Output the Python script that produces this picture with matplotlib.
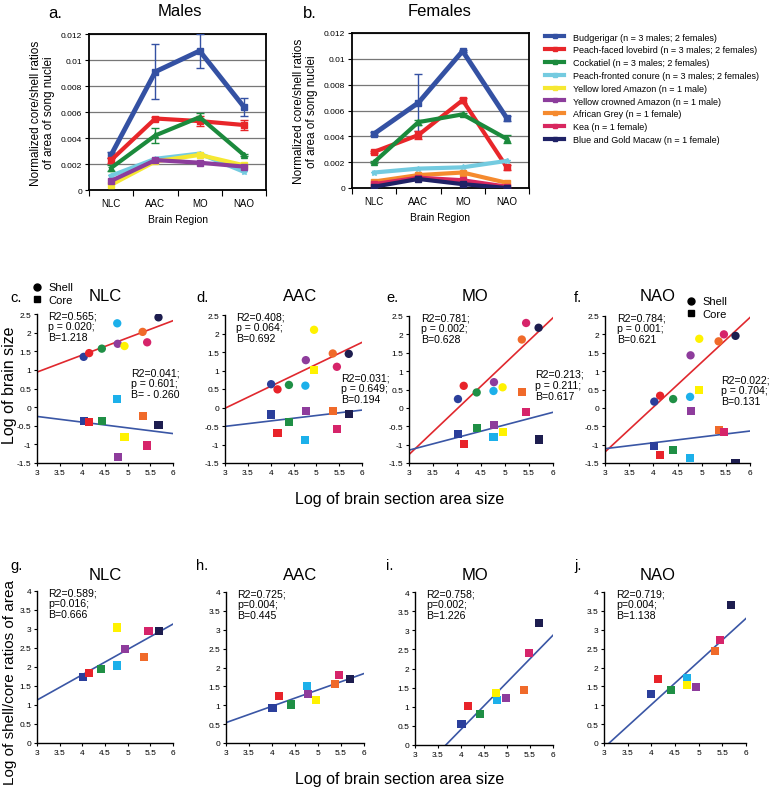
import numpy as np
import matplotlib
matplotlib.use("Agg")
import matplotlib.pyplot as plt
from matplotlib.lines import Line2D
from matplotlib.ticker import FuncFormatter, FixedLocator

plt.rcParams['font.family'] = ['Liberation Sans', 'DejaVu Sans']

W, H = 777, 804

# ---- top row: normalized core/shell ratios by brain region ----
regions = ["NLC", "AAC", "MO", "NAO"]
species = ["Budgerigar (n = 3 males; 2 females)",
           "Peach-faced lovebird (n = 3 males; 2 females)",
           "Cockatiel (n = 3 males; 2 females)",
           "Peach-fronted conure (n = 3 males; 2 females)",
           "Yellow lored Amazon (n = 1 male)",
           "Yellow crowned Amazon (n = 1 male)",
           "African Grey (n = 1 female)",
           "Kea (n = 1 female)",
           "Blue and Gold Macaw (n = 1 female)"]
line_colors = ["#3451a3", "#e8262a", "#1b8a3c", "#74cbe0", "#f6e832",
               "#8c3d9c", "#f58a2e", "#d8275f", "#1f2266"]

male_budgie = [0.0027, 0.0091, 0.0107, 0.0064]
male_budgie_err = [0.0002, 0.0021, 0.0013, 0.0007]
male_lovebird = [0.0023, 0.0055, 0.0053, 0.0050]
male_lovebird_err = [0.0002, 0.0001, 0.0004, 0.0004]
male_cockatiel = [0.0017, 0.0042, 0.0056, 0.0027]
male_cockatiel_err = [0.0002, 0.0006, 0.0003, 0.0001]
male_conure = [0.0011, 0.0024, 0.0028, 0.0014]
male_yellow_lored = [0.0004, 0.0022, 0.0027, 0.0019]
male_yellow_crowned = [0.0007, 0.0023, 0.0021, 0.0018]

female_budgie = [0.0042, 0.0066, 0.0106, 0.0054]
female_budgie_err = [0.0001, 0.0022, 0.0001, 0.0002]
female_lovebird = [0.0028, 0.0041, 0.0068, 0.0016]
female_lovebird_err = [0.0001, 0.0003, 0.0002, 0.0002]
female_cockatiel = [0.0020, 0.0051, 0.0057, 0.0038]
female_cockatiel_err = [0.0001, 0.0002, 0.0001, 0.0003]
female_conure = [0.0012, 0.0015, 0.0016, 0.0021]
female_african_grey = [0.0005, 0.0010, 0.0012, 0.0004]
female_kea = [0.0003, 0.0008, 0.0006, 0.0001]
female_macaw = [0.0001, 0.0007, 0.0003, 0.0000]

# ---- scatter panels: x = log of brain section area size ----
dot_colors = ["#2b3f9b", "#e8232a", "#1f8f45", "#1cb0ea", "#8e3c9c",
              "#fff200", "#f06a2a", "#d6246a", "#1d1d4f"]
# order: budgie, lovebird, cockatiel, conure, yellow crowned, yellow lored, grey, kea, macaw
x_c = [4.03, 4.15, 4.43, 4.77, 4.78, 4.93, 5.33, 5.43, 5.68]
shell_c = [1.35, 1.45, 1.57, 2.25, 1.70, 1.64, 2.02, 1.74, 2.41]
core_c = [-0.38, -0.40, -0.38, 0.22, -1.34, -0.81, -0.25, -1.03, -0.48]
x_d = [4.01, 4.15, 4.40, 4.76, 4.77, 4.95, 5.36, 5.45, 5.71]
shell_d = [0.63, 0.49, 0.61, 0.59, 1.28, 2.10, 1.46, 1.10, 1.45]
core_d = [-0.19, -0.68, -0.39, -0.89, -0.09, 1.01, -0.09, -0.59, -0.18]
x_e = [4.02, 4.14, 4.41, 4.76, 4.77, 4.95, 5.35, 5.44, 5.70]
shell_e = [0.24, 0.60, 0.42, 0.46, 0.70, 0.56, 1.86, 2.31, 2.18]
core_e = [-0.70, -0.99, -0.55, -0.80, -0.47, -0.65, 0.42, -0.10, -0.86]
x_f = [4.02, 4.14, 4.41, 4.76, 4.77, 4.95, 5.35, 5.46, 5.70]
shell_f = [0.17, 0.33, 0.24, 0.30, 1.43, 1.88, 1.81, 2.00, 1.96]
core_f = [-1.04, -1.28, -1.14, -1.37, -0.08, 0.49, -0.60, -0.65, -1.49]

x_g = [4.01, 4.15, 4.41, 4.76, 4.95, 4.77, 5.36, 5.46, 5.70]
ratio_g = [1.74, 1.85, 1.95, 2.04, 2.47, 3.04, 2.26, 2.95, 2.95]
x_h = [4.01, 4.15, 4.42, 4.76, 4.78, 4.95, 5.36, 5.46, 5.70]
ratio_h = [0.92, 1.24, 1.02, 1.52, 1.29, 1.13, 1.56, 1.79, 1.70]
x_i = [4.01, 4.15, 4.42, 4.78, 4.97, 4.77, 5.36, 5.47, 5.70]
ratio_i = [0.56, 1.03, 0.81, 1.17, 1.24, 1.37, 1.43, 2.41, 3.19]
x_j = [4.00, 4.15, 4.41, 4.75, 4.95, 4.76, 5.35, 5.46, 5.69]
ratio_j = [1.30, 1.70, 1.41, 1.72, 1.48, 1.53, 2.44, 2.72, 3.66]

# regression lines (endpoints)
shell_fit = {"c": ([3, 6], [0.94, 2.32]), "d": ([3, 6], [-0.02, 1.76]),
             "e": ([3, 6], [-1.27, 2.45]), "f": ([3, 6], [-1.20, 2.46])}
core_fit = {"c": ([3, 6], [-0.25, -0.71]), "d": ([3, 6], [-0.51, -0.07]),
            "e": ([3, 6], [-1.15, -0.12]), "f": ([3, 6], [-1.11, -0.63])}
ratio_fit = {"g": ([3, 6], [1.13, 3.13]), "h": ([3, 6], [0.54, 1.84]),
             "i": ([3.67, 6], [0.0, 2.87]), "j": ([3.11, 6], [0.0, 3.30])}

shell_stats = {"c": "R2=0.565;\np = 0.020;\nB=1.218", "d": "R2=0.408;\np = 0.064;\nB=0.692",
               "e": "R2=0.781;\np = 0.002;\nB=0.628", "f": "R2=0.784;\np = 0.001;\nB=0.621"}
core_stats = {"c": "R2=0.041;\np = 0.601;\nB= - 0.260", "d": "R2=0.031;\np = 0.649;\nB=0.194",
              "e": "R2=0.213;\np = 0.211;\nB=0.617", "f": "R2=0.022;\np = 0.704;\nB=0.131"}
ratio_stats = {"g": "R2=0.589;\np=0.016;\nB=0.666", "h": "R2=0.725;\np=0.004;\nB=0.445",
               "i": "R2=0.758;\np=0.002;\nB=1.226", "j": "R2=0.719;\np=0.004;\nB=1.138"}


def box(x0, y0, x1, y1):
    return [x0 / W, 1 - y1 / H, (x1 - x0) / W, (y1 - y0) / H]


fig = plt.figure(figsize=(W / 100, H / 100), dpi=100)
fmt = FuncFormatter(lambda v, p: f"{v:g}")


def region_panel(rect, series, title, letter, lx, tx):
    ax = fig.add_axes(rect)
    xs = np.arange(len(regions))
    for vals, err, color, mk, lw in series:
        ax.errorbar(xs, vals, yerr=err, color=color, lw=lw, marker=mk, ms=4,
                    capsize=3, elinewidth=1, capthick=1, zorder=3)
    ax.set_xlim(-0.5, 3.5)
    ax.set_ylim(0, 0.012)
    ax.set_yticks(np.arange(0, 0.0121, 0.002))
    ax.yaxis.set_major_formatter(fmt)
    ax.yaxis.grid(True, color="#777777", lw=0.9)
    ax.set_axisbelow(True)
    ax.xaxis.set_major_locator(FixedLocator([-0.5, 0.5, 1.5, 2.5, 3.5]))
    ax.xaxis.set_major_formatter(FuncFormatter(lambda v, p: ""))
    ax.set_xticks(xs, minor=True)
    ax.set_xticklabels(regions, minor=True, fontsize=7)
    ax.tick_params(axis="x", which="minor", length=0, pad=6)
    ax.tick_params(axis="x", which="major", length=4, direction="out")
    ax.tick_params(axis="y", labelsize=6, length=3, pad=2)
    for s in ax.spines.values():
        s.set_linewidth(1.3)
    ax.set_ylabel("Normalized core/shell ratios\nof area of song nuclei", fontsize=8.5,
                  labelpad=4, linespacing=1.1)
    fig.text(tx / W, 1 - 12 / H, title, fontsize=12, ha="center", va="center")
    fig.text(lx / W, 1 - 14 / H, letter, fontsize=12, ha="left", va="center")
    return ax


ax_m = region_panel(box(89, 35, 266, 191), [
    (male_budgie, male_budgie_err, line_colors[0], "s", 3.5),
    (male_lovebird, male_lovebird_err, line_colors[1], "s", 3),
    (male_cockatiel, male_cockatiel_err, line_colors[2], "^", 3),
    (male_conure, None, line_colors[3], "*", 3),
    (male_yellow_lored, None, line_colors[4], "s", 3),
    (male_yellow_crowned, None, line_colors[5], "s", 3),
], "Males", "a.", 48, 180)
ax_m.set_xlabel("Brain Region", fontsize=7.5, labelpad=4)

ax_f = region_panel(box(352, 34, 529, 189), [
    (female_budgie, female_budgie_err, line_colors[0], "s", 3.5),
    (female_lovebird, female_lovebird_err, line_colors[1], "s", 3),
    (female_cockatiel, female_cockatiel_err, line_colors[2], "^", 3),
    (female_conure, None, line_colors[3], "*", 3),
    (female_african_grey, None, line_colors[6], "s", 3),
    (female_kea, None, line_colors[7], "s", 3),
    (female_macaw, None, line_colors[8], "s", 3),
], "Females", "b.", 303, 440)
ax_f.set_xlabel("Brain Region", fontsize=7.5, labelpad=4)

handles = [Line2D([], [], color=c, lw=3, marker="s", ms=3) for c in line_colors]
fig.legend(handles, species, loc="upper left", bbox_to_anchor=(541 / W, 1 - 30 / H),
           frameon=False, fontsize=6.5, handlelength=2.2, handletextpad=0.9,
           labelspacing=0.42, borderaxespad=0)


def style_scatter(ax, ylim, yticks):
    ax.set_xlim(3, 6)
    ax.set_ylim(*ylim)
    ax.set_xticks(np.arange(3, 6.01, 0.5))
    ax.set_yticks(yticks)
    ax.xaxis.set_major_formatter(fmt)
    ax.yaxis.set_major_formatter(fmt)
    ax.tick_params(labelsize=6, length=2.5, width=0.8, pad=1.5)
    for s in ("top", "right"):
        ax.spines[s].set_visible(False)
    for s in ("left", "bottom"):
        ax.spines[s].set_linewidth(1.0)


scatter_boxes = {"c": (37, 315, 173, 464), "d": (225, 316, 362, 464),
                 "e": (409, 317, 553, 464), "f": (605, 317, 750, 464)}
scatter_data = {"c": (x_c, shell_c, core_c), "d": (x_d, shell_d, core_d),
                "e": (x_e, shell_e, core_e), "f": (x_f, shell_f, core_f)}
titles_top = {"c": ("NLC", 105, 10), "d": ("AAC", 300, 196),
              "e": ("MO", 475, 386), "f": ("NAO", 658, 574)}
core_text_pos = {"c": (5.07, 1.06), "d": (5.54, 0.95), "e": (5.62, 1.06), "f": (5.40, 0.92)}

for k, (x0, y0, x1, y1) in scatter_boxes.items():
    ax = fig.add_axes(box(x0, y0, x1, y1))
    xv, sh, co = scatter_data[k]
    ax.plot(*shell_fit[k], color="#e0282e", lw=1.2, zorder=2)
    ax.plot(*core_fit[k], color="#3a56a5", lw=1.2, zorder=2)
    ax.scatter(xv, sh, c=dot_colors, marker="o", s=36, zorder=3, linewidths=0)
    ax.scatter(xv, co, c=dot_colors, marker="s", s=34, zorder=3, linewidths=0)
    style_scatter(ax, (-1.5, 2.5), np.arange(-1.5, 2.51, 0.5))
    ax.text(3.25, 2.6, shell_stats[k], fontsize=7.6, va="top", ha="left", linespacing=1.1)
    tx, ty = core_text_pos[k]
    ax.text(tx, ty, core_stats[k], fontsize=7.6, va="top", ha="left", linespacing=1.1,
            clip_on=False, zorder=5)
    name, cx, lx = titles_top[k]
    fig.text(cx / W, 1 - 297 / H, name, fontsize=12, ha="center", va="center")
    fig.text(lx / W, 1 - 298 / H, k + ".", fontsize=10.5, ha="left", va="center")

sc_handles = [Line2D([], [], color="black", marker="o", ls="none", ms=5),
              Line2D([], [], color="black", marker="s", ls="none", ms=5)]
for bx, by in [(28, 279), (682, 293)]:
    fig.legend(sc_handles, ["Shell", "Core"], loc="upper left",
               bbox_to_anchor=(bx / W, 1 - by / H), frameon=False, fontsize=8,
               handlelength=0.8, handletextpad=0.6, labelspacing=0.25, borderaxespad=0)

ratio_boxes = {"g": (37, 592, 173, 744), "h": (226, 593, 364, 744),
               "i": (415, 593, 553, 746), "j": (604, 593, 746, 744)}
ratio_data = {"g": (x_g, ratio_g), "h": (x_h, ratio_h), "i": (x_i, ratio_i), "j": (x_j, ratio_j)}
titles_bot = {"g": ("NLC", 105, 10), "h": ("AAC", 300, 196),
              "i": ("MO", 475, 386), "j": ("NAO", 658, 574)}

for k, (x0, y0, x1, y1) in ratio_boxes.items():
    ax = fig.add_axes(box(x0, y0, x1, y1))
    xv, rv = ratio_data[k]
    ax.plot(*ratio_fit[k], color="#3a56a5", lw=1.2, zorder=2)
    ax.scatter(xv, rv, c=dot_colors, marker="s", s=34, zorder=3, linewidths=0)
    style_scatter(ax, (0, 4), np.arange(0, 4.01, 0.5))
    ax.text(3.25, 4.1, ratio_stats[k], fontsize=7.6, va="top", ha="left", linespacing=1.1)
    name, cx, lx = titles_bot[k]
    fig.text(cx / W, 1 - 575 / H, name, fontsize=12, ha="center", va="center")
    fig.text(lx / W, 1 - 566 / H, k + ".", fontsize=10.5, ha="left", va="center")

fig.text(10 / W, 1 - 385 / H, "Log of brain size", fontsize=11.5, rotation=90,
         ha="center", va="center")
fig.text(10 / W, 1 - 683 / H, "Log of shell/core ratios of area", fontsize=11,
         rotation=90, ha="center", va="center")
fig.text(400 / W, 1 - 500 / H, "Log of brain section area size", fontsize=11.5,
         ha="center", va="center")
fig.text(400 / W, 1 - 780 / H, "Log of brain section area size", fontsize=11.5,
         ha="center", va="center")

fig.savefig("out.png", dpi=100)
